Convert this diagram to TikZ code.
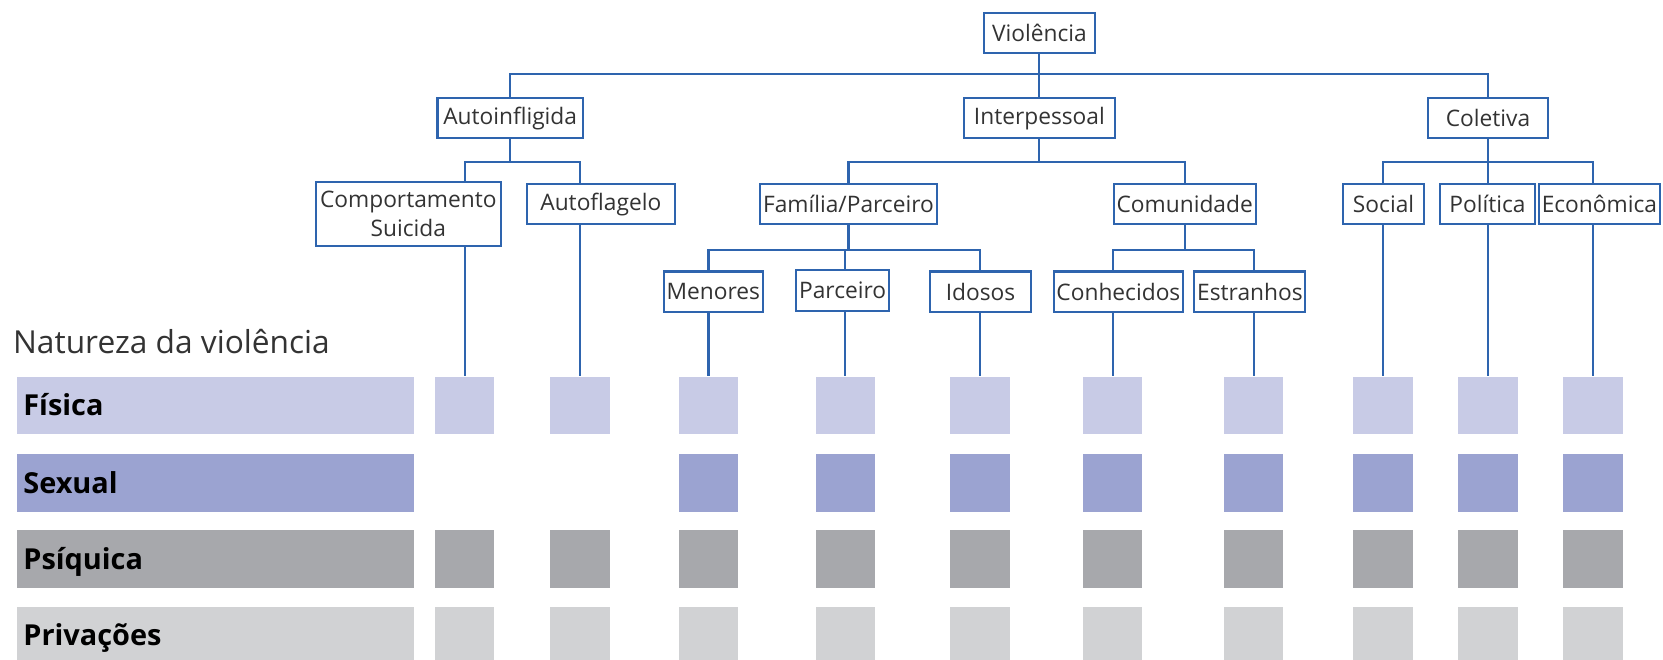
\documentclass[tikz,border=0pt]{standalone}
\usepackage{fontspec}
\setmainfont{Open Sans}
\usepackage{xcolor}
\usetikzlibrary{positioning,calc}
\definecolor{treeblue}{HTML}{2E64AE}
\definecolor{fisica}{HTML}{C8CBE6}
\definecolor{sexual}{HTML}{9BA3D1}
\definecolor{psiquica}{HTML}{A7A8AC}
\definecolor{privacao}{HTML}{D1D2D4}

\begin{document}
\begin{tikzpicture}[x=0.02cm,y=-0.02cm,
  box/.style={draw=treeblue,line width=1.1pt,rectangle,fill=white,text=black!80,
    font=\fontsize{12.2}{15.5}\selectfont,inner xsep=1.5pt,minimum height=0.76cm,align=center},
  link/.style={draw=treeblue,line width=1.1pt},
  cell/.style={rectangle,inner sep=0pt,minimum width=1.12cm,minimum height=1.08cm},
  bar/.style={rectangle,inner xsep=0.12cm,inner ysep=0pt,text width=7.24cm,
    minimum height=1.08cm,align=left,text height=11pt,text depth=0pt,
    font=\fontsize{15.5}{18}\selectfont\bfseries}]
\useasboundingbox (0,0) rectangle (1568,622);
% Tipologia da violencia
\node[box,minimum width=2.1cm] (vio) at (980,31) {Violência};
\node[box,minimum width=2.74cm] (aut) at (481,111.5) {Autoinfligida};
\node[box,minimum width=2.84cm] (int) at (980,111.5) {Interpessoal};
\node[box,minimum width=2.26cm] (col) at (1403,111.5) {Coletiva};
\node[box,minimum width=3.48cm,minimum height=1.2cm] (cs) at (385,202) {Comportamento\\Suicida};
\node[box,minimum width=2.78cm] (af) at (566.5,192.5) {Autoflagelo};
\node[box,minimum width=3.32cm] (fam) at (800,192.5) {Família/Parceiro};
\node[box,minimum width=2.66cm] (com) at (1117,192.5) {Comunidade};
\node[box,minimum width=1.54cm] (soc) at (1304.5,192.5) {Social};
\node[box,minimum width=1.78cm] (pol) at (1402.5,192.5) {Política};
\node[box,minimum width=2.24cm] (eco) at (1508,192.5) {Econômica};
\node[box,minimum width=1.82cm] (men) at (672.5,275) {Menores};
\node[box,minimum width=1.74cm] (par) at (794.5,274) {Parceiro};
\node[box,minimum width=1.9cm] (ido) at (924.5,275) {Idosos};
\node[box,minimum width=2.3cm] (con) at (1054.5,275) {Conhecidos};
\node[box,minimum width=2.02cm] (est) at (1178.5,275) {Estranhos};

% Natureza da violencia
\node[anchor=base west,inner sep=0pt,text=black!80,font=\fontsize{17}{19}\selectfont] (nat) at (12,333) {Natureza da violência};
\node[bar,fill=fisica] (lfis) at (203,382) {Física};
\node[bar,fill=sexual] (lsex) at (203,455.5) {Sexual};
\node[bar,fill=psiquica] (lpsi) at (203,527) {Psíquica};
\node[bar,fill=privacao] (lpri) at (203,599) {Privações};
\foreach \c/\x in {1/438,2/547,3/668,4/797,5/924,6/1049,7/1182,8/1304,9/1403,10/1502} {
  \node[cell,fill=fisica] (fis\c) at (\x,382) {};
  \node[cell,fill=psiquica] (psi\c) at (\x,527) {};
  \node[cell,fill=privacao] (pri\c) at (\x,599) {};
}
\foreach \c/\x in {3/668,4/797,5/924,6/1049,7/1182,8/1304,9/1403,10/1502}
  \node[cell,fill=sexual] (sex\c) at (\x,455.5) {};

% ligacoes
\draw[link] (vio.south) -- ++(0,19) -| (aut.north);
\draw[link] (vio.south) -- (int.north);
\draw[link] (vio.south) -- ++(0,19) -| (col.north);
\draw[link] (aut.south) -- ++(0,21) -| (cs.north -| fis1.north);
\draw[link] (aut.south) -- ++(0,21) -| (af.north -| fis2.north);
\draw[link] (int.south) -- ++(0,21) -| (fam.north);
\draw[link] (int.south) -- ++(0,21) -| (com.north);
\draw[link] (col.south) -- ++(0,21) -| (soc.north -| fis8.north);
\draw[link] (col.south) -- (pol.north -| fis9.north);
\draw[link] (col.south) -- ++(0,21) -| (eco.north -| fis10.north);
\draw[link] (fam.south) -- ++(0,23) -| (men.north -| fis3.north);
\draw[link] (fam.south) -- ++(0,23) -| (par.north -| fis4.north);
\draw[link] (fam.south) -- ++(0,23) -| (ido.north -| fis5.north);
\draw[link] (com.south) -- ++(0,23) -| (con.north -| fis6.north);
\draw[link] (com.south) -- ++(0,23) -| (est.north -| fis7.north);

\draw[link] (cs.south -| fis1.north) -- (fis1.north);
\draw[link] (af.south -| fis2.north) -- (fis2.north);
\draw[link] (men.south -| fis3.north) -- (fis3.north);
\draw[link] (par.south -| fis4.north) -- (fis4.north);
\draw[link] (ido.south -| fis5.north) -- (fis5.north);
\draw[link] (con.south -| fis6.north) -- (fis6.north);
\draw[link] (est.south -| fis7.north) -- (fis7.north);
\draw[link] (soc.south -| fis8.north) -- (fis8.north);
\draw[link] (pol.south -| fis9.north) -- (fis9.north);
\draw[link] (eco.south -| fis10.north) -- (fis10.north);
\end{tikzpicture}
\end{document}
